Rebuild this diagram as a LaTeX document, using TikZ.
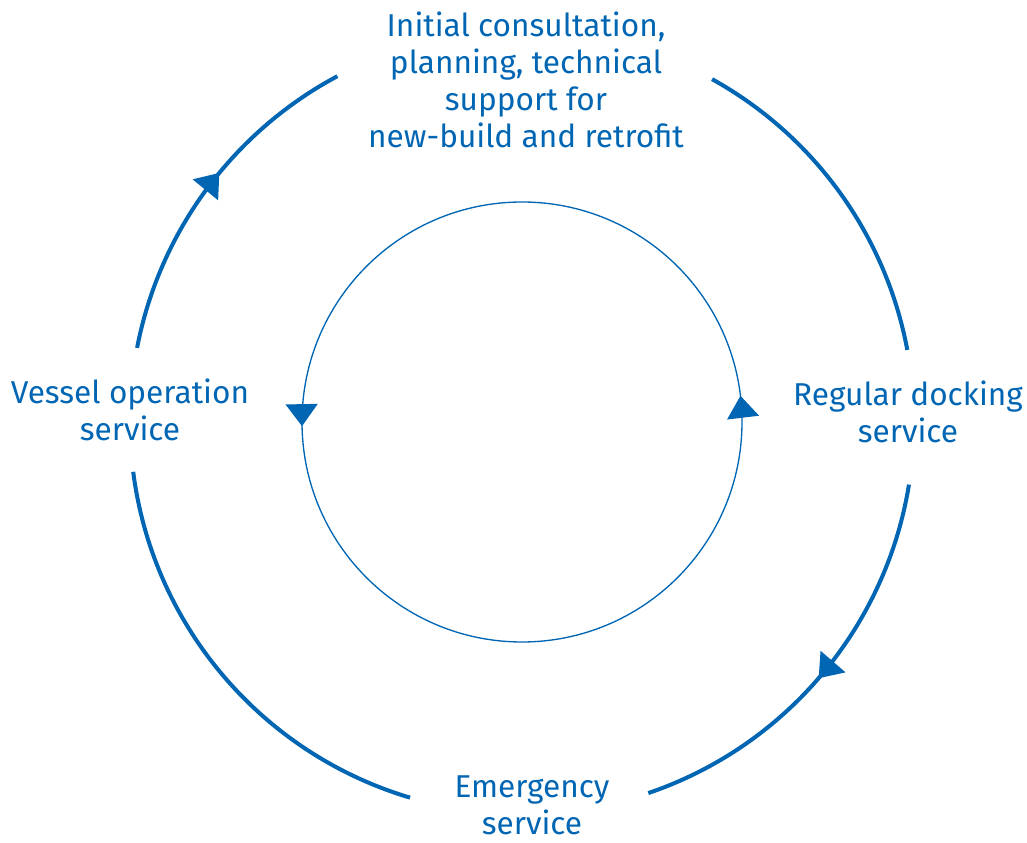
\documentclass[tikz,border=0pt]{standalone}
\usepackage{fontspec}
\setmainfont{Fira Sans}
\usetikzlibrary{arrows.meta,decorations.markings}
\definecolor{cycleblue}{RGB}{0,102,179}

\begin{document}
\begin{tikzpicture}[x=0.75pt,y=0.75pt,
    stage/.style={text=cycleblue,align=center,inner sep=0pt,
      font=\fontsize{23.7}{27.6}\selectfont},
    outer/.style={color=cycleblue,line width=3pt},
    inner/.style={color=cycleblue,line width=1pt},
    midarrow/.style={postaction={decorate,decoration={markings,
      mark=at position #1 with {\arrow{Triangle[length=16.5pt,width=24pt]}}}}}]
  \useasboundingbox (0,0) rectangle (1027,842);
  \coordinate (c) at (522,420);
  % stages
  \node[stage] (plan) at (526,762) {Initial consultation,\\planning, technical\\support for\\new-build and retrofit};
  \node[stage] (dock) at (908,430) {Regular docking\\service};
  \node[stage] (emerg) at (532,37) {Emergency\\service};
  \node[stage] (vessel) at (130,432) {Vessel operation\\service};
  % outer cycle
  \draw[outer,midarrow=0.56] (c) ++(169.1:392) arc[start angle=169.1,end angle=118.1,radius=392];
  \draw[outer] (c) ++(61:392) arc[start angle=61,end angle=10.6,radius=392];
  \draw[outer,midarrow=0.51] (c) ++(-9.2:392) arc[start angle=-9.2,end angle=-71.2,radius=392];
  \draw[outer] (c) ++(-106.6:392) arc[start angle=-106.6,end angle=-172.7,radius=392];
  % inner cycle
  \draw[inner,midarrow=0.019,midarrow=0.503] (c) circle[radius=220];
\end{tikzpicture}
\end{document}
